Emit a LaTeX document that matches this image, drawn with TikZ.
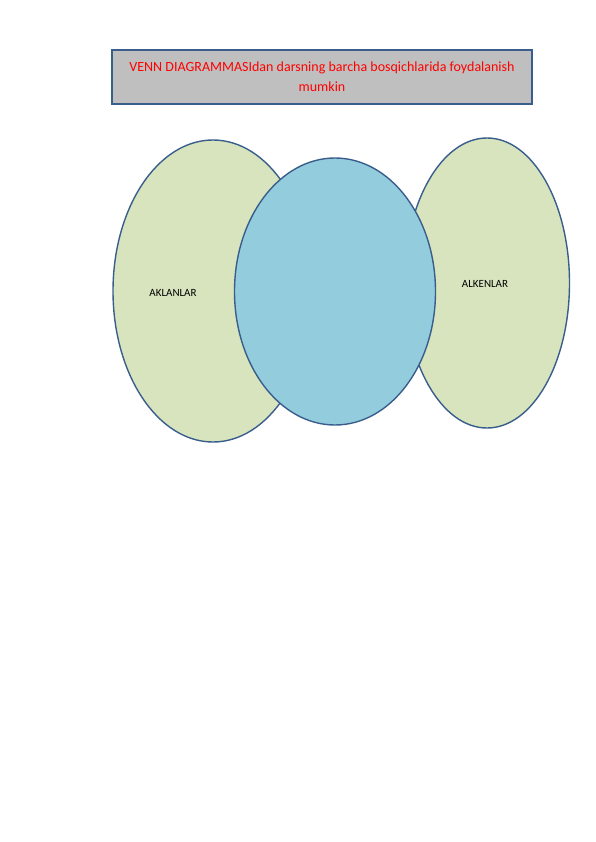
\documentclass[tikz,border=0pt]{standalone}
\usepackage{fontspec}
\setmainfont{Carlito}
\usetikzlibrary{shapes.geometric}
\definecolor{setgreen}{HTML}{D7E4BD}
\definecolor{setblue}{HTML}{93CDDD}
\definecolor{rimblue}{HTML}{3A5E8C}
\definecolor{boxgray}{HTML}{BFBFBF}
\tikzset{
  setshape/.style={ellipse,draw=rimblue,line width=1.4pt,inner sep=0pt},
  setlabel/.style={font=\fontsize{11}{13}\selectfont,text=black},
}
\begin{document}
\begin{tikzpicture}[x=1pt,y=-1pt]
        \useasboundingbox (0,0) rectangle(596,842);
        % sarlavha
        \node[draw=rimblue,fill=boxgray,line width=1.4pt,minimum width=420pt,minimum height=54pt,
              align=center,text=red,font=\fontsize{14}{20}\selectfont] (title) at (322,77)
              {VENN DIAGRAMMASIdan darsning barcha bosqichlarida foydalanish\\mumkin};
        % to'plamlar
        \node[setshape,fill=setgreen,minimum width=200pt,minimum height=302pt] (alkan) at (213,291) {};
        \node[setshape,fill=setgreen,minimum width=165pt,minimum height=290pt] (alken) at (487,283) {};
        \node[setshape,fill=setblue,minimum width=201pt,minimum height=267pt] (mid) at (335,291.5) {};
        \node[setlabel] (alkanlbl) at (173,292.5) {AKLANLAR};
        \node[setlabel] (alkenlbl) at (485,284) {ALKENLAR};
    \end{tikzpicture}
\end{document}
